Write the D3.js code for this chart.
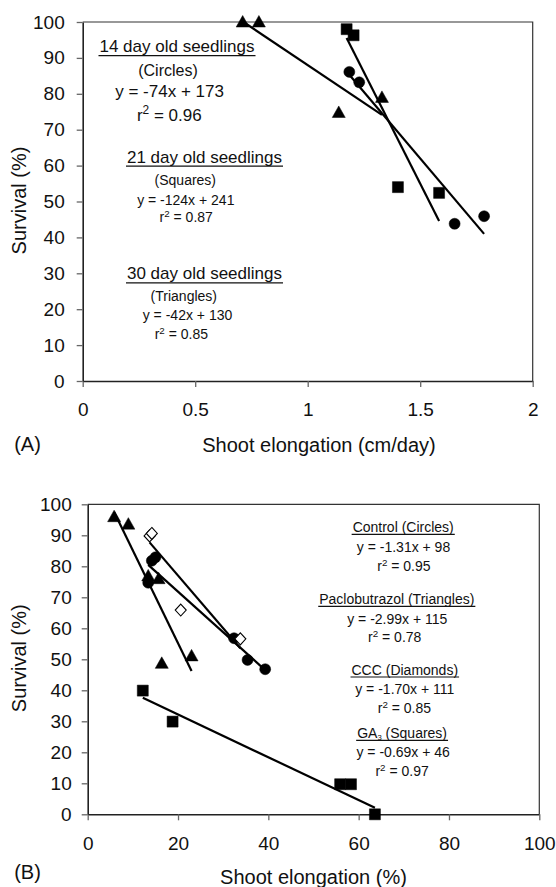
<!DOCTYPE html>
<html>
<head>
<meta charset="utf-8">
<script src="https://d3js.org/d3.v7.min.js"></script>
<style>
    body, html { margin: 0; padding: 0; background: #fff; }
    svg { font-family: Arial, "Liberation Sans", Helvetica, sans-serif; }
</style>
</head>
<body>
<div id="chart"></div>
<script>

// ---- panel A : survival vs shoot elongation (cm/day) ----
var aCircles   = [[1.185, 86.1], [1.229, 83.2], [1.653, 43.8], [1.784, 45.9]];
var aSquares   = [[1.173, 98.0], [1.204, 96.3], [1.401, 54.0], [1.584, 52.4]];
var aTriangles = [[0.711, 100], [0.783, 100], [1.138, 74.8], [1.330, 79.0]];
// fitted lines [slope, intercept]
var aFitCircles   = [-74, 173];
var aFitSquares   = [-124, 241];
var aFitTriangles = [-42, 130];
var aXTicks = [0, 0.5, 1, 1.5, 2];
var aYTicks = [0, 10, 20, 30, 40, 50, 60, 70, 80, 90, 100];
var aNotes = ["14 day old seedlings", "(Circles)", "y = -74x + 173", "r^2 = 0.96",
              "21 day old seedlings", "(Squares)", "y = -124x + 241", "r^2 = 0.87",
              "30 day old seedlings", "(Triangles)", "y = -42x + 130", "r^2 = 0.85"];

// ---- panel B : survival vs shoot elongation (%) ----
var bControl  = [[13.4, 74.7], [14.2, 81.8], [15.0, 82.9], [32.4, 56.8], [35.4, 49.8], [39.3, 46.8]];
var bPaclo    = [[5.85, 96.0], [9.0, 93.6], [13.4, 76.9], [15.7, 76.0], [16.4, 48.7], [23.0, 51.1]];
var bCCC      = [[13.7, 89.8], [14.2, 90.6], [20.6, 65.9], [33.8, 56.6]];
var bGA3      = [[12.2, 39.9], [18.8, 29.9], [55.9, 9.7], [58.3, 9.7], [63.6, 0]];
var bFitControl = [-1.31, 98];
var bFitPaclo   = [-2.99, 115];
var bFitCCC     = [-1.70, 111];
var bFitGA3     = [-0.69, 46];
var bXTicks = [0, 20, 40, 60, 80, 100];
var bYTicks = [0, 10, 20, 30, 40, 50, 60, 70, 80, 90, 100];
var bNotes = ["Control (Circles)", "y = -1.31x + 98", "r^2 = 0.95",
              "Paclobutrazol (Triangles)", "y = -2.99x + 115", "r^2 = 0.78",
              "CCC (Diamonds)", "y = -1.70x + 111", "r^2 = 0.85",
              "GA_3 (Squares)", "y = -0.69x + 46", "r^2 = 0.97"];

var svg = d3.select("#chart").append("svg")
    .attr("width", 556)
    .attr("height", 887);

svg.append("rect").attr("width", 556).attr("height", 887).attr("fill", "#fff");

// marker path centred on 0,0
function marker(shape) {
    if (shape == "circle") return d3.symbol().type(d3.symbolCircle).size(95)();
    if (shape == "square") return "M-5.5,-5.5H5.5V5.5H-5.5Z";
    if (shape == "triangle") return "M0,-6.5L6.5,5L-6.5,5Z";
    if (shape == "diamond") return "M0,-6L5.5,0L0,6L-5.5,0Z";
}

// text with ^sup and _sub pieces
function richText(g, str, x, y, size) {
    var t = g.append("text")
        .attr("x", x).attr("y", y).attr("dy", "0.35em")
        .attr("text-anchor", "middle")
        .attr("font-size", size + "px")
        .attr("fill", "#111");
    var parts = str.split(/([\^_]\d)/);
    parts.forEach(function(p) {
        if (p == "") return;
        if (p[0] == "^") {
            t.append("tspan").attr("baseline-shift", "super").attr("font-size", (size * 0.7) + "px").text(p[1]);
        } else if (p[0] == "_") {
            // small subscript, kept just above the underline
            t.append("tspan").attr("baseline-shift", "-1.5px").attr("font-size", (size * 0.55) + "px").text(p[1]);
        } else {
            t.append("tspan").text(p);
        }
    });
    return t;
}

function drawPanel(p) {
    var x = d3.scaleLinear().domain([0, p.xMax]).range([p.left, p.right]);
    var y = d3.scaleLinear().domain([0, 100]).range([p.bottom, p.top]);
    var g = svg.append("g");

    // frame top + right
    g.append("path")
        .attr("d", "M" + p.left + "," + p.top + "H" + p.right + "V" + p.bottom)
        .attr("fill", "none").attr("stroke", "#333").attr("stroke-width", 1.2);

    var xa = g.append("g")
        .attr("transform", "translate(0," + p.bottom + ")")
        .call(d3.axisBottom(x).tickValues(p.xTicks).tickSize(6).tickSizeOuter(0).tickPadding(16)
            .tickFormat(d3.format("")));
    var ya = g.append("g")
        .attr("transform", "translate(" + p.left + ",0)")
        .call(d3.axisLeft(y).tickValues(p.yTicks).tickSize(6).tickSizeOuter(0).tickPadding(p.yPad));
    [xa, ya].forEach(function(a) {
        a.select(".domain").attr("stroke", "#222").attr("stroke-width", 1.6);
        a.selectAll(".tick line").attr("stroke", "#666").attr("stroke-width", 1.3);
        a.selectAll(".tick text").attr("font-size", "19px").attr("fill", "#111")
            .attr("font-family", "Arial, 'Liberation Sans', sans-serif");
    });

    // fitted lines, over the x range of each series
    p.series.forEach(function(s) {
        var ext = d3.extent(s.data, function(d) { return d[0]; });
        g.append("line")
            .attr("x1", x(ext[0])).attr("y1", y(s.fit[0] * ext[0] + s.fit[1]))
            .attr("x2", x(ext[1])).attr("y2", y(s.fit[0] * ext[1] + s.fit[1]))
            .attr("stroke", "#000").attr("stroke-width", 2.2);
    });

    // points
    p.series.forEach(function(s) {
        g.append("g").selectAll("path")
            .data(s.data)
            .enter()
            .append("path")
            .attr("d", marker(s.shape))
            .attr("transform", function(d) { return "translate(" + x(d[0]) + "," + y(d[1]) + ")"; })
            .attr("fill", s.open ? "#fff" : "#000")
            .attr("stroke", "#000")
            .attr("stroke-width", s.open ? 1.1 : 0.5);
    });

    // notes
    p.notes.forEach(function(str, i) {
        var L = p.noteLayout[i];
        var t = richText(g, str, L[0], L[1], L[2]);
        if (L[3]) {
            var w = t.node().getComputedTextLength();
            g.append("line")
                .attr("x1", L[0] - w / 2 - 1).attr("x2", L[0] + w / 2 + 1)
                .attr("y1", L[1] + L[3]).attr("y2", L[1] + L[3])
                .attr("stroke", "#111").attr("stroke-width", 1.2);
        }
    });

    // axis titles
    g.append("text")
        .attr("x", p.xTitle[0]).attr("y", p.xTitle[1]).attr("dy", "0.35em")
        .attr("text-anchor", "middle").attr("font-size", "20px").attr("fill", "#111")
        .text(p.xLabel);
    g.append("text")
        .attr("transform", "translate(26," + ((p.top + p.bottom) / 2 - 1) + ") rotate(-90)")
        .attr("text-anchor", "middle").attr("font-size", "20px").attr("fill", "#111")
        .text("Survival (%)");
    g.append("text")
        .attr("x", 27.5).attr("y", p.tag[1]).attr("dy", "0.35em")
        .attr("text-anchor", "middle").attr("font-size", "20px").attr("fill", "#111")
        .text(p.tag[0]);
}

drawPanel({
    left: 82.7, right: 532.7, top: 22, bottom: 381, xMax: 2, yPad: 12,
    xTicks: aXTicks, yTicks: aYTicks,
    series: [
        {data: aCircles, fit: aFitCircles, shape: "circle"},
        {data: aSquares, fit: aFitSquares, shape: "square"},
        {data: aTriangles, fit: aFitTriangles, shape: "triangle"}
    ],
    notes: aNotes,
    noteLayout: [
        [177, 46, 17, 9.7], [168, 70, 16], [169.6, 90.7, 17], [169.3, 115, 17],
        [204.5, 156.7, 17, 9.5], [185.3, 180, 14], [185.8, 200, 14], [186.2, 217.3, 14],
        [204.5, 273.3, 17, 9.5], [183.8, 296, 14], [187.5, 315, 14], [181.3, 334, 14]
    ],
    xLabel: "Shoot elongation (cm/day)", xTitle: [319, 445],
    tag: ["(A)", 444]
});

drawPanel({
    left: 87.7, right: 539.3, top: 504.3, bottom: 814.3, xMax: 100, yPad: 10,
    xTicks: bXTicks, yTicks: bYTicks,
    series: [
        {data: bControl, fit: bFitControl, shape: "circle"},
        {data: bPaclo, fit: bFitPaclo, shape: "triangle"},
        {data: bCCC, fit: bFitCCC, shape: "diamond", open: true},
        {data: bGA3, fit: bFitGA3, shape: "square"}
    ],
    notes: bNotes,
    noteLayout: [
        [403.2, 527.3, 14, 7], [403.5, 547.3, 14], [403.9, 566, 14],
        [396.8, 599.3, 14, 7], [397.3, 619.3, 14], [394.7, 637.3, 14],
        [404.8, 670, 14, 7], [404.8, 689.3, 14], [404.4, 708.3, 14],
        [402.1, 733.3, 14, 7], [403.2, 751.7, 14], [402.1, 770.7, 14]
    ],
    xLabel: "Shoot elongation (%)", xTitle: [313.5, 876.7],
    tag: ["(B)", 871.7]
});

</script>
</body>
</html>
